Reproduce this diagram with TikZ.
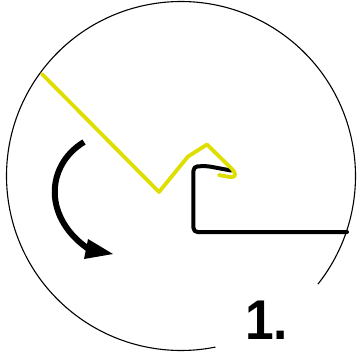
\documentclass[tikz,border=0pt]{standalone}
\usepackage{fontspec}
\setmainfont{Liberation Sans}
\definecolor{foldyellow}{RGB}{222,222,0}
\tikzset{
  ring/.style={line width=1.1pt,black},
  yellowline/.style={line width=3.8pt,foldyellow,line join=round,line cap=round},
  blackline/.style={line width=4pt,black,line join=round,line cap=round},
  turn/.style={line width=6pt,black},
  numlabel/.style={inner sep=0pt,anchor=base west,xscale=0.92,font=\fontsize{56}{56}\selectfont\bfseries}
}
\begin{document}
\begin{tikzpicture}[x=1pt,y=-1pt]
\useasboundingbox (0,0) rectangle (358,360);
\draw[ring] (181,176) ++(38.3:174.5) arc[start angle=38.3,end angle=-281.4,radius=174.5];
\draw[blackline,rounded corners=4pt] (347,232) -- (193.5,232) -- (193.5,166.5) -- (207,166) -- (231,170.5);
\draw[yellowline] (42,74) -- (159,192) -- (188,156.5) -- (207,144.5) -- (232,169)
  .. controls (236,173) and (236,177) .. (232,177) .. controls (228,177) and (224,176) .. (219,175);
\draw[turn] (84,142) .. controls (46,165) and (42,218) .. (90,250);
\fill[black] (113,254) -- (88,239) -- (84,259) -- cycle;
\node[numlabel] (lbl) at (245,339) {1.};
\end{tikzpicture}
\end{document}
